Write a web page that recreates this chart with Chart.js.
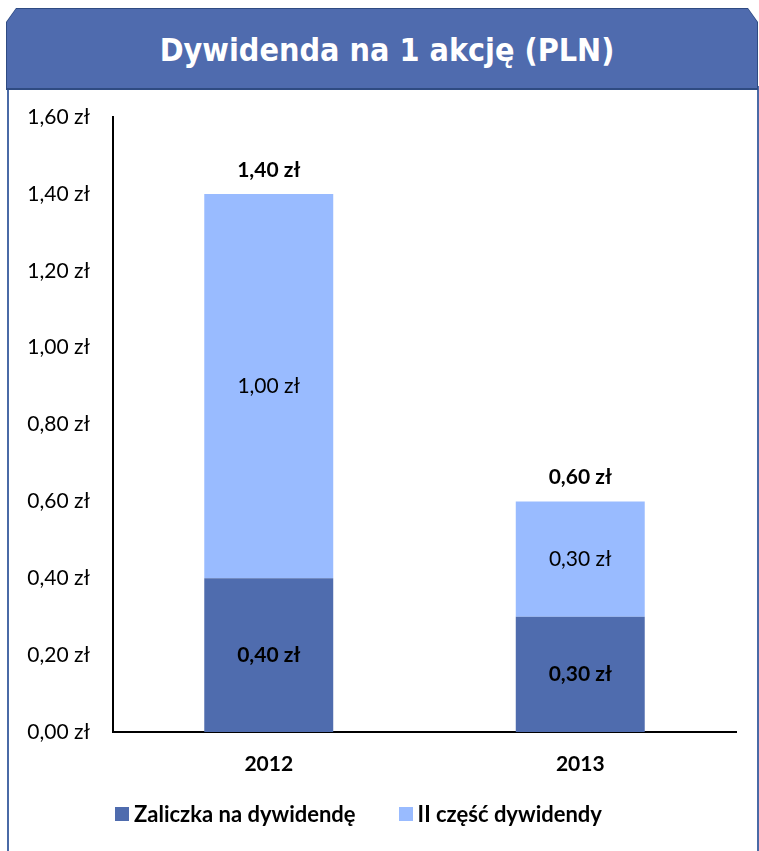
<!DOCTYPE html>
<html>
<head>
<meta charset="utf-8">
<script src="https://cdn.jsdelivr.net/npm/chart.js@4"></script>
<style>
  body { margin: 0; background: #fff; width: 759px; height: 851px; overflow: hidden; position: relative; }
  .frame { position: absolute; left: 7px; top: 86px; width: 748px; height: 780px;
    border-left: 2px solid #4a6aa6; border-right: 2px solid #4a6aa6; }
  .header-outer { position: absolute; left: 6px; top: 8px; width: 752px; height: 82px; background: #2f4b82;
    clip-path: polygon(0 14px, 10px 0, calc(100% - 10px) 0, 100% 14px, 100% 100%, 0 100%); }
  .header { position: absolute; left: 1px; top: 1px; right: 1px; bottom: 2px; background: #4f6bae;
    clip-path: polygon(0 13px, 9px 0, calc(100% - 9px) 0, 100% 13px, 100% 100%, 0 100%);
    color: #fff; font: bold 32px "DejaVu Sans Condensed", "DejaVu Sans", sans-serif;
    display: flex; align-items: center; justify-content: center; padding-left: 10px; padding-top: 3px; box-sizing: border-box; }
  #chartBox { position: absolute; left: 0; top: 90px; width: 759px; height: 720px; }
  #legendChart { position: absolute; left: 115px; top: 800px; display: flex;
    font: bold 22px Lato, sans-serif; color: #000; }
  #legendChart .item { display: flex; align-items: center; margin-right: 43px; }
  #legendChart .box { width: 14px; height: 14px; margin-right: 5px; }
</style>
</head>
<body>
<div class="frame"></div>
<div class="header-outer"><div class="header">Dywidenda na 1 akcję (PLN)</div></div>
<div id="chartBox"><canvas id="dividendChart" width="759" height="720"></canvas></div>
<div id="legendChart"></div>
<script>
const years = ["2012", "2013"];
const advance = [0.40, 0.30];     // Zaliczka na dywidendę
const secondPart = [1.00, 0.30];  // II część dywidendy
const seriesNames = ["Zaliczka na dywidendę", "II część dywidendy"];
const seriesColors = ["#4f6cae", "#99bbff"];

const totals = years.map((y, i) => advance[i] + secondPart[i]);

function fmt(v) {
  return v.toFixed(2).replace(".", ",") + " zł";
}

// labels inside segments and totals above bars
const valueLabels = {
  id: "valueLabels",
  afterDatasetsDraw(chart) {
    const ctx = chart.ctx;
    ctx.save();
    ctx.textAlign = "center";
    ctx.textBaseline = "middle";
    ctx.fillStyle = "#000";
    chart.data.datasets.forEach((ds, i) => {
      const meta = chart.getDatasetMeta(i);
      meta.data.forEach((bar, j) => {
        ctx.font = (i === 0 ? "bold " : "") + "21px Lato";
        ctx.fillText(fmt(ds.data[j]), bar.x, (bar.y + bar.base) / 2);
      });
    });
    const topMeta = chart.getDatasetMeta(chart.data.datasets.length - 1);
    topMeta.data.forEach((bar, j) => {
      ctx.font = "bold 21px Lato";
      ctx.fillText(fmt(totals[j]), bar.x, bar.y - 24);
    });
    ctx.restore();
  }
};

let ctx = document.getElementById("dividendChart").getContext("2d");
let myChart = new Chart(ctx, {
  type: "bar",
  data: {
    labels: years,
    datasets: [
      { label: seriesNames[0], data: advance, backgroundColor: seriesColors[0], borderWidth: 0 },
      { label: seriesNames[1], data: secondPart, backgroundColor: seriesColors[1], borderWidth: 0 },
    ],
  },
  options: {
    responsive: false,
    animation: false,
    layout: { padding: { top: 27, right: 23, bottom: 0, left: 0 } },
    datasets: { bar: { categoryPercentage: 1, barPercentage: 0.414 } },
    plugins: {
      legend: { display: false },
      tooltip: { enabled: false },
    },
    scales: {
      x: {
        stacked: true,
        grid: { display: false, drawTicks: false },
        border: { display: true, color: "#000", width: 2 },
        ticks: { color: "#000", padding: 20, font: { family: "Lato", size: 21, weight: "bold" } },
        afterFit(scale) { scale.height = 78; },
      },
      y: {
        stacked: true,
        min: 0,
        max: 1.6,
        grid: { display: false, drawTicks: false },
        border: { display: true, color: "#000", width: 2 },
        ticks: {
          stepSize: 0.2,
          color: "#000",
          padding: 23,
          font: { family: "Lato", size: 21 },
          callback: (value) => fmt(value),
        },
        afterFit(scale) {
          scale.width = 113;
          // tick padding is for the horizontal gap only
          scale.paddingTop = 12;
          scale.paddingBottom = 12;
        },
      },
    },
  },
  plugins: [valueLabels],
});

let legendHTML = "";
myChart.data.datasets.forEach((ds) => {
  legendHTML += `<div class="item"><div class="box" style="background:${ds.backgroundColor}"></div>${ds.label}</div>`;
});
document.getElementById("legendChart").innerHTML = legendHTML;
</script>
</body>
</html>
